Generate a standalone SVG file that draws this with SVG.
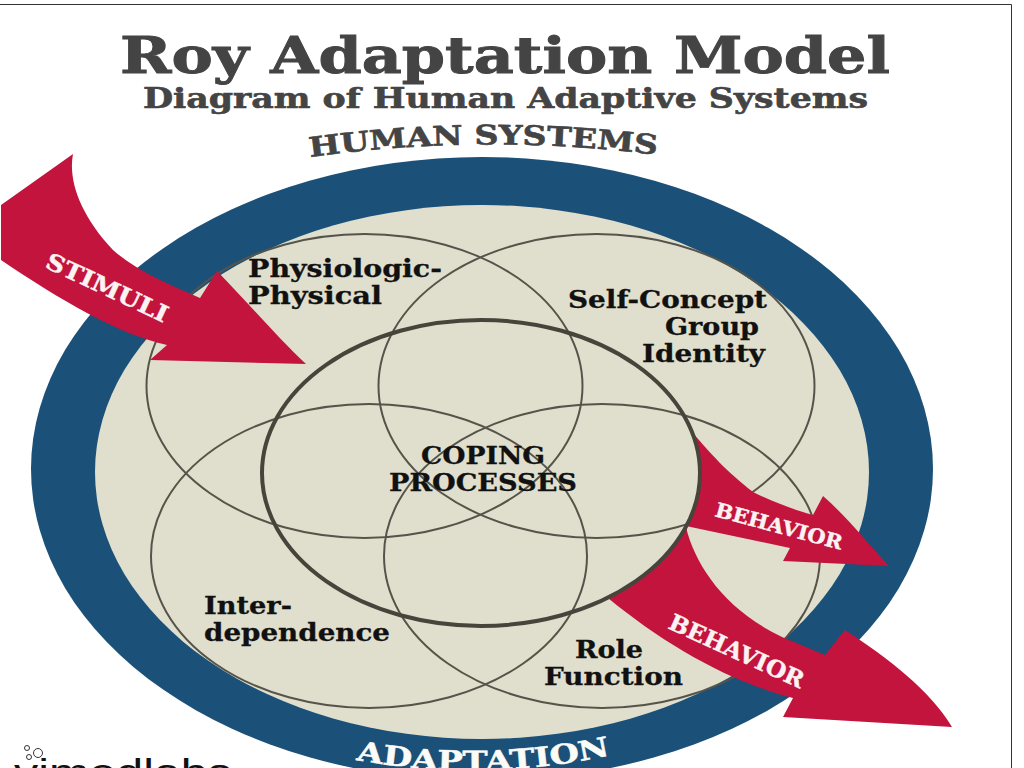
<svg xmlns="http://www.w3.org/2000/svg" width="1024" height="768" viewBox="0 0 1024 768">
<style>
text{font-family:"DejaVu Serif","Liberation Serif",serif;font-weight:700}
.t{fill:#444;stroke:#444;stroke-width:.9}
.l{fill:#111;font-size:24px;stroke:#111;stroke-width:.3}
.w{fill:#fbf3f3;font-size:20px;stroke:#fbf3f3;stroke-width:.4}
.c{fill:none;stroke:#56544a;stroke-width:2}
.a{fill:#c3143e}
</style>
<rect width="1024" height="768" fill="#fff"/>
<path d="M0 4.500H1011.500V768" fill="none" stroke="#333" stroke-width="1"/>
<text class="t" x="120" y="73" font-size="50" textLength="770" lengthAdjust="spacingAndGlyphs">Roy Adaptation Model</text>
<text class="t" x="143" y="108" font-size="28" textLength="725" lengthAdjust="spacingAndGlyphs" style="stroke-width:.6">Diagram of Human Adaptive Systems</text>
<defs>
<path id="top" d="M310 157Q484 133 658 155"/>
<path id="bot" d="M356 760Q484 783 611 755"/>
</defs>
<text class="t" font-size="27" style="stroke-width:.6"><textPath href="#top" textLength="348" lengthAdjust="spacingAndGlyphs">HUMAN SYSTEMS</textPath></text>
<g id="ring">
<ellipse cx="482" cy="469" rx="451" ry="312" fill="#1b5078"/>
<ellipse cx="482" cy="472" rx="387" ry="267" fill="#e0dfcd"/>
</g>
<text fill="#fbfbf8" font-size="27" stroke="#fbfbf8" stroke-width=".5"><textPath href="#bot" textLength="256" lengthAdjust="spacingAndGlyphs">ADAPTATION</textPath></text>
<g id="circles">
<ellipse class="c" cx="364.500" cy="386" rx="218" ry="152"/>
<ellipse class="c" cx="596.500" cy="386" rx="218" ry="152"/>
<ellipse class="c" cx="369" cy="556" rx="218" ry="152"/>
<ellipse class="c" cx="602" cy="556" rx="218" ry="152"/>
</g>
<g id="connectors">
<path class="a" d="M73 154C68 180 80 215 113 250C135 270 170 285 200 298L217 271C250 305 280 340 306 364L150 360L167 345C120 335 60 300 1 260V205Z"/>
<path class="a" d="M692 432C712 455 725 470 753 492C775 503 795 510 813 515L823 496C845 515 865 540 889 566L783 561L790 548L686 526A219 153 0 0 0 692 432Z"/>
<path class="a" d="M686 527C695 565 725 610 782 637L825 655L845 630C888 658 930 690 952 727L783 717L793 698C730 682 665 645 608 598A219 153 0 0 0 686 527Z"/>
</g>
<ellipse id="center" cx="481" cy="473" rx="219" ry="153" fill="none" stroke="#47453b" stroke-width="4"/>
<g id="labels">
<text class="l" x="248" y="277" textLength="194" lengthAdjust="spacingAndGlyphs">Physiologic-</text>
<text class="l" x="248" y="304" textLength="134" lengthAdjust="spacingAndGlyphs">Physical</text>
<text class="l" x="568" y="308" textLength="199" lengthAdjust="spacingAndGlyphs">Self-Concept</text>
<text class="l" x="665" y="335" textLength="94" lengthAdjust="spacingAndGlyphs">Group</text>
<text class="l" x="642" y="362" textLength="123" lengthAdjust="spacingAndGlyphs">Identity</text>
<text class="l" x="421" y="464" textLength="124" lengthAdjust="spacingAndGlyphs">COPING</text>
<text class="l" x="389" y="491" textLength="188" lengthAdjust="spacingAndGlyphs">PROCESSES</text>
<text class="l" x="204" y="614" textLength="88" lengthAdjust="spacingAndGlyphs">Inter-</text>
<text class="l" x="204" y="641" textLength="186" lengthAdjust="spacingAndGlyphs">dependence</text>
<text class="l" x="575" y="658" textLength="68" lengthAdjust="spacingAndGlyphs">Role</text>
<text class="l" x="544" y="685" textLength="139" lengthAdjust="spacingAndGlyphs">Function</text>
<text class="w" transform="translate(44 267) rotate(25)" style="font-size:23px" textLength="132" lengthAdjust="spacingAndGlyphs">STIMULI</text>
<text class="w" transform="translate(714 516) rotate(15)" textLength="131" lengthAdjust="spacingAndGlyphs">BEHAVIOR</text>
<text class="w" transform="translate(667 628) rotate(24.500)" style="font-size:23px" textLength="146" lengthAdjust="spacingAndGlyphs">BEHAVIOR</text>
</g>
<g id="logo">
<circle cx="27" cy="748" r="2.500" fill="none" stroke="#333"/>
<circle cx="29" cy="757" r="2.500" fill="none" stroke="#333"/>
<circle cx="38" cy="753" r="4.500" fill="none" stroke="#333"/>
<text x="14" y="785" font-size="36" fill="#111" style='font-family:"Liberation Sans",sans-serif;font-weight:400' textLength="218" lengthAdjust="spacingAndGlyphs">vimedlabs</text>
</g>
</svg>
